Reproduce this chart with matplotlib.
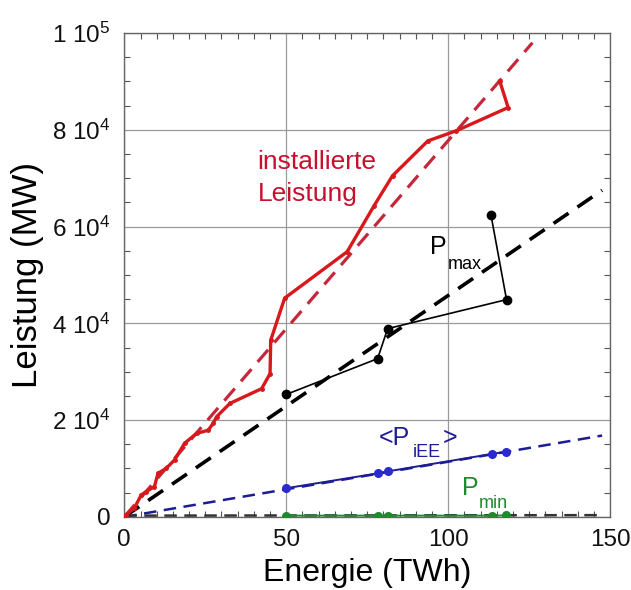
import matplotlib
matplotlib.use("Agg")
import matplotlib.pyplot as plt
from matplotlib.ticker import MultipleLocator

plt.rcParams['font.family'] = ['Liberation Sans', 'DejaVu Sans']
plt.rcParams['mathtext.fontset'] = 'custom'
plt.rcParams['mathtext.rm'] = 'Liberation Sans'
plt.rcParams['mathtext.it'] = 'Liberation Sans'
plt.rcParams['mathtext.default'] = 'regular'

# ---- data ----
red_x = [0, 0.5, 3.1, 5.2, 6.7, 9.3, 10.4, 12.9, 15.5, 18.6, 22.3, 25.9, 27.4, 28.5,
         32.6, 42.4, 45.0, 45.2, 49.5, 68.8, 77.1, 82.8, 93.7, 102.5, 118.5, 115.9]
red_y = [0, 400, 1800, 4500, 5200, 6250, 9000, 10000, 11750, 15200, 17250, 17900, 19300, 20700,
         23450, 26500, 29600, 36500, 45200, 54800, 64300, 70500, 77700, 79800, 84600, 90100]
red_fit_x = [0, 126]
red_fit_y = [0, 98000]

pmax_x = [50.0, 78.2, 81.3, 118.0, 113.2]
pmax_y = [25300, 32700, 38900, 44900, 62400]
pmax_fit_x = [0, 147.5]
pmax_fit_y = [0, 67500]

piee_x = [50.0, 78.4, 81.5, 113.4, 117.8]
piee_y = [5920, 9000, 9420, 12990, 13470]
piee_fit_x = [0, 147.5]
piee_fit_y = [0, 16800]

pmin_x = [50.0, 78.4, 81.5, 113.4, 117.8]
pmin_y = [250, 250, 250, 250, 300]
pmin_fit_x = [0, 147.5]
pmin_fit_y = [250, 350]

xticks = [0, 50, 100, 150]
yticks = [0, 20000, 40000, 60000, 80000, 100000]
ytick_labels = ['0', r'$2\ 10^4$', r'$4\ 10^4$', r'$6\ 10^4$', r'$8\ 10^4$', r'$1\ 10^5$']

# ---- figure ----
fig = plt.figure(figsize=(6.31, 5.90), dpi=100)
ax = fig.add_axes([0.197, 0.124, 0.770, 0.820])

red = '#d8191c'
red_text = '#c8102e'
red_dash = '#c4283a'
navy = '#1c1c96'
green = '#1f8a2e'

ax.plot(red_fit_x, red_fit_y, color=red_dash, lw=2.3, dashes=(5, 3), zorder=3)
ax.plot(pmax_fit_x, pmax_fit_y, color='black', lw=2.6, dashes=(5, 3), zorder=3)
ax.plot(piee_fit_x, piee_fit_y, color=navy, lw=1.8, dashes=(5, 3), zorder=3)
ax.plot(pmin_fit_x, pmin_fit_y, color='#333333', lw=1.8, dashes=(5, 3), zorder=3)

ax.plot(red_x, red_y, color=red, lw=2.4, marker='o', ms=2.5, zorder=4)
ax.plot(pmax_x, pmax_y, color='black', lw=1.2, marker='o', ms=6, zorder=5)
ax.plot(piee_x, piee_y, color=navy, lw=1.4, marker='o', ms=5.5, mfc='#2a2ad0', mec='#2a2ad0', zorder=5)
ax.plot(pmin_x, pmin_y, color=green, lw=1.4, marker='o', ms=5.5, zorder=5)

ax.set_xlim(0, 150)
ax.set_ylim(0, 100000)
ax.set_xticks(xticks)
ax.set_yticks(yticks)
ax.set_yticklabels(ytick_labels)
ax.xaxis.set_minor_locator(MultipleLocator(5))
ax.yaxis.set_minor_locator(MultipleLocator(5000))
ax.tick_params(which='both', direction='in', top=True, right=True, colors='#555555',
               labelcolor='#111111', labelsize=17.5)
ax.tick_params(which='major', length=0)
ax.tick_params(axis='x', which='major', pad=9)
ax.tick_params(axis='y', which='major', pad=10)
ax.tick_params(which='minor', length=4, width=0.8)
ax.grid(True, which='major', color='#9a9a9a', lw=0.9)
for s in ax.spines.values():
    s.set_color('#666666')
    s.set_linewidth(1.0)

ax.set_xlabel('Energie (TWh)', fontsize=23, labelpad=5)
ax.set_ylabel('Leistung (MW)', fontsize=25, labelpad=6)

# red label
ax.text(41.1, 71900, 'installierte', color=red_text, fontsize=19, va='baseline', ha='left')
ax.text(41.1, 65300, 'Leistung', color=red_text, fontsize=19, va='baseline', ha='left')


def label_with_sub(x, y, main, sub, color, sub_dx, sub_dy, tail=None, tail_dx=0):
    ax.text(x, y, main, color=color, fontsize=18, va='baseline', ha='left')
    ax.annotate(sub, xy=(x, y), xycoords='data', xytext=(sub_dx, sub_dy),
                textcoords='offset pixels', color=color, fontsize=13,
                va='baseline', ha='left')
    if tail:
        ax.annotate(tail, xy=(x, y), xycoords='data', xytext=(tail_dx, 0),
                    textcoords='offset pixels', color=color, fontsize=18,
                    va='baseline', ha='left')


label_with_sub(94.3, 54400, 'P', 'max', 'black', 18, -15)
label_with_sub(78.7, 14850, '<P', 'iEE', navy, 34, -12, tail='>', tail_dx=64)
label_with_sub(104.2, 4540, 'P', 'min', green, 17, -13)

fig.savefig('out.png', dpi=100)
